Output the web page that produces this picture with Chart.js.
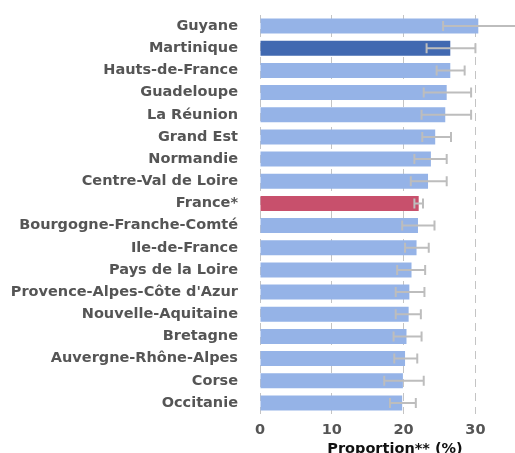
<!DOCTYPE html>
<html>
<head>
<meta charset="utf-8">
<script src="https://cdn.jsdelivr.net/npm/chart.js@4/dist/chart.umd.min.js"></script>
<style>
  html, body { margin: 0; padding: 0; background: #fff; overflow: hidden; }
  #box { width: 530px; height: 453px; }
</style>
</head>
<body>
<div id="box"><canvas id="graphique"></canvas></div>
<script>
const regions = ['Guyane', 'Martinique', 'Hauts-de-France', 'Guadeloupe', 'La Réunion', 'Grand Est',
  'Normandie', 'Centre-Val de Loire', 'France*', 'Bourgogne-Franche-Comté', 'Ile-de-France',
  'Pays de la Loire', "Provence-Alpes-Côte d'Azur", 'Nouvelle-Aquitaine', 'Bretagne',
  'Auvergne-Rhône-Alpes', 'Corse', 'Occitanie'];
const proportions = [30.4, 26.5, 26.5, 26.0, 25.8, 24.4, 23.8, 23.4, 22.1, 22.0, 21.8, 21.1, 20.8, 20.7, 20.4, 20.2, 19.9, 19.8];
const icBas = [25.5, 23.2, 24.6, 22.8, 22.5, 22.6, 21.5, 21.0, 21.5, 19.8, 20.2, 19.1, 18.9, 18.9, 18.6, 18.7, 17.3, 18.1];
const icHaut = [38.0, 30.0, 28.5, 29.4, 29.4, 26.6, 26.0, 26.0, 22.7, 24.3, 23.5, 23.0, 22.9, 22.4, 22.5, 21.9, 22.8, 21.7];
const graduations = [0, 10, 20, 30];

const couleurs = regions.map(r => r === 'Martinique' ? '#4169b1' : (r === 'France*' ? '#c8506c' : '#95b3e7'));

// barres d'erreur (intervalles de confiance)
const barresErreur = {
  id: 'barresErreur',
  afterDatasetsDraw(chart) {
    const c = chart.ctx;
    const x = chart.scales.x;
    const meta = chart.getDatasetMeta(0);
    const a = chart.chartArea;
    c.save();
    c.beginPath();
    c.rect(a.left, a.top, a.right - a.left, a.bottom - a.top);
    c.clip();
    c.strokeStyle = '#bdbdbd';
    c.lineWidth = 2;
    meta.data.forEach((bar, i) => {
      const x1 = x.getPixelForValue(icBas[i]);
      const x2 = x.getPixelForValue(icHaut[i]);
      const y = bar.y;
      c.beginPath();
      c.moveTo(x1, y); c.lineTo(x2, y);
      c.moveTo(x1, y - 5); c.lineTo(x1, y + 5);
      c.moveTo(x2, y - 5); c.lineTo(x2, y + 5);
      c.stroke();
    });
    c.restore();
  }
};

const police = { family: 'DejaVu Sans', size: 14.5, weight: 'bold' };

new Chart(document.getElementById('graphique'), {
  type: 'bar',
  data: {
    labels: regions,
    datasets: [{
      data: proportions,
      backgroundColor: couleurs,
      borderWidth: 0,
      barPercentage: 0.68,
      categoryPercentage: 1
    }]
  },
  options: {
    indexAxis: 'y',
    responsive: true,
    maintainAspectRatio: false,
    animation: false,
    layout: { padding: { top: 15, right: 0, left: 0, bottom: 0 } },
    plugins: { legend: { display: false }, tooltip: { enabled: false } },
    scales: {
      x: {
        min: 0,
        max: 37.6,
        afterBuildTicks: axe => { axe.ticks = graduations.map(v => ({ value: v })); },
        afterFit: axe => { axe.height = 39; },
        grid: { color: '#c4c4c4', drawTicks: false, lineWidth: 1 },
        border: { display: false, dash: [8, 6] },
        ticks: { padding: 8, color: '#555', font: police },
        title: {
          display: true,
          text: 'Proportion** (%)',
          color: '#111',
          padding: { top: 0, bottom: -5 },
          font: police
        }
      },
      y: {
        afterFit: axe => { axe.width = 260; axe.paddingTop = 0; axe.paddingBottom = 0; },
        grid: { display: false, drawTicks: false },
        border: { display: false },
        ticks: { padding: 22, color: '#555', font: police }
      }
    }
  },
  plugins: [barresErreur]
});
</script>
</body>
</html>
